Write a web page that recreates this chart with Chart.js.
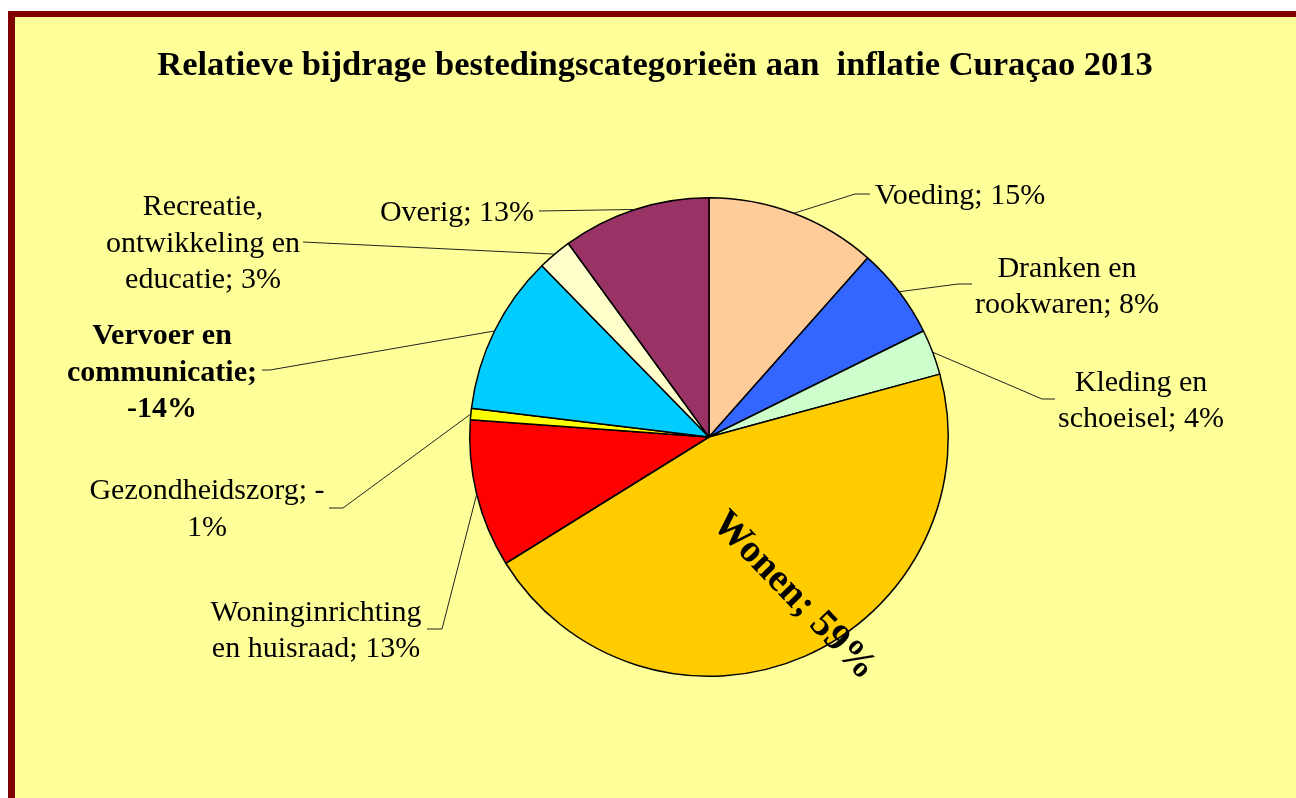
<!DOCTYPE html>
<html><head><meta charset="utf-8">
<script src="https://cdn.jsdelivr.net/npm/chart.js@4.4.0/dist/chart.umd.min.js"></script>
<style>html,body{margin:0;padding:0;background:#fff;}canvas{display:block;}</style>
</head><body>
<canvas id="c" width="1296" height="798"></canvas>
<script>
// ---- data ----
const categories = ["Voeding", "Dranken en rookwaren", "Kleding en schoeisel", "Wonen",
  "Woninginrichting en huisraad", "Gezondheidszorg", "Vervoer en communicatie",
  "Recreatie, ontwikkeling en educatie", "Overig"];
const contributions = [15, 8, 4, 59, 13, -1, -14, 3, 13]; // % bijdrage
const sliceSizes = contributions.map(v => Math.abs(v));
const sliceColors = ["#FFCC99", "#3366FF", "#CCFFCC", "#FFCC00", "#FF0000", "#FFFF00", "#00CCFF", "#FFFFCC", "#993366"];
const labelLines = [
  ["Voeding; 15%"],
  ["Dranken en", "rookwaren; 8%"],
  ["Kleding en", "schoeisel; 4%"],
  ["Wonen; 59%"],
  ["Woninginrichting", "en huisraad; 13%"],
  ["Gezondheidszorg; -", "1%"],
  ["Vervoer en", "communicatie;", "-14%"],
  ["Recreatie,", "ontwikkeling en", "educatie; 3%"],
  ["Overig; 13%"]
];
const titleText = "Relatieve bijdrage bestedingscategorieën aan  inflatie Curaçao 2013";

// ---- label layout (relative to pie centre, px) ----
const labelLayout = [
  {tx: 251, ty: -241, elbow: [146, -243], end: [161, -243]},
  {tx: 358, ty: -150, elbow: [249, -153], end: [263, -153]},
  {tx: 432, ty: -36, elbow: [333, -38], end: [346, -38]},
  {inside: true, tx: 85, ty: 159, rot: 46},
  {tx: -393, ty: 194, elbow: [-267, 192], end: [-282, 192]},
  {tx: -502, ty: 72.5, elbow: [-366, 71], end: [-380, 71]},
  {tx: -547, ty: -64, elbow: [-439, -67], end: [-447, -67], bold: true},
  {tx: -506, ty: -193, elbow: [-406, -195], end: [-406, -195]},
  {tx: -252, ty: -224, elbow: [-170, -226], end: [-170, -226]}
];

const FONT = '"Liberation Serif", "Times New Roman", serif';

const backgroundPlugin = {
  id: 'bg',
  beforeDraw(chart) {
    const ctx = chart.ctx;
    ctx.save();
    ctx.fillStyle = '#FFFFFF';
    ctx.fillRect(0, 0, chart.width, chart.height);
    ctx.fillStyle = '#800000';
    ctx.fillRect(8, 11, chart.width - 8, chart.height - 11);
    ctx.fillStyle = '#FFFF99';
    ctx.fillRect(15, 17, chart.width - 15, chart.height - 17);
    ctx.fillStyle = '#000';
    ctx.font = 'bold 34.5px ' + FONT;
    ctx.textAlign = 'center';
    ctx.textBaseline = 'alphabetic';
    ctx.fillText(titleText, 655, 75);
    ctx.restore();
  }
};

const labelPlugin = {
  id: 'pieLabels',
  afterDatasetsDraw(chart) {
    const ctx = chart.ctx;
    const meta = chart.getDatasetMeta(0);
    ctx.save();
    meta.data.forEach((arc, i) => {
      const L = labelLayout[i];
      const cx = arc.x, cy = arc.y;
      const mid = (arc.startAngle + arc.endAngle) / 2;
      const R = arc.outerRadius;
      if (L.inside) {
        ctx.save();
        ctx.translate(cx + L.tx, cy + L.ty);
        ctx.rotate(L.rot * Math.PI / 180);
        ctx.font = 'bold 39px ' + FONT;
        ctx.fillStyle = '#000';
        ctx.textAlign = 'center';
        ctx.textBaseline = 'middle';
        ctx.fillText(labelLines[i][0], 0, 0);
        ctx.restore();
        return;
      }
      const ax = cx + Math.cos(mid) * R, ay = cy + Math.sin(mid) * R;
      ctx.strokeStyle = '#222';
      ctx.lineWidth = 1;
      ctx.beginPath();
      ctx.moveTo(ax, ay);
      ctx.lineTo(cx + L.elbow[0], cy + L.elbow[1]);
      ctx.lineTo(cx + L.end[0], cy + L.end[1]);
      ctx.stroke();
      ctx.fillStyle = '#000';
      ctx.font = (L.bold ? 'bold ' : '') + '30px ' + FONT;
      ctx.textAlign = 'center';
      ctx.textBaseline = 'middle';
      const lines = labelLines[i];
      const lh = 36.5;
      lines.forEach((t, k) => {
        ctx.fillText(t, cx + L.tx, cy + L.ty + (k - (lines.length - 1) / 2) * lh);
      });
    });
    ctx.restore();
  }
};

new Chart(document.getElementById('c'), {
  type: 'pie',
  data: {
    labels: categories,
    datasets: [{
      data: sliceSizes,
      backgroundColor: sliceColors,
      borderColor: '#000',
      borderWidth: 1.5,
      hoverOffset: 0,
      borderAlign: 'center'
    }]
  },
  options: {
    responsive: false,
    animation: false,
    devicePixelRatio: 1,
    layout: {padding: {left: 469, right: 347, top: 197, bottom: 121}},
    plugins: {
      legend: {display: false},
      tooltip: {enabled: false},
      title: {display: false}
    }
  },
  plugins: [backgroundPlugin, labelPlugin]
});
</script>
</body></html>
